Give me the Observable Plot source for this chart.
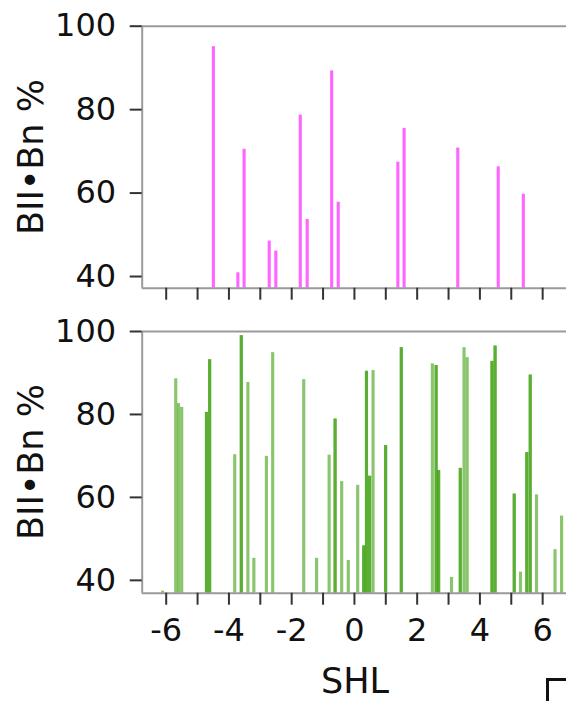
<!DOCTYPE html>
<html>
<head>
<meta charset="utf-8">
<script src="https://cdn.jsdelivr.net/npm/d3@7"></script>
<script src="https://cdn.jsdelivr.net/npm/@observablehq/plot@0.6"></script>
<style>
  html, body { margin: 0; padding: 0; background: #fff; }
  #wrap { position: relative; width: 566px; height: 701px; overflow: hidden; font-family: "DejaVu Sans", sans-serif; color: #111; }
  .panel { position: absolute; left: 0; }
  .ylab { position: absolute; font-size: 35px; white-space: nowrap; transform: translate(-50%, -50%) rotate(-90deg); }
  .xlab { position: absolute; font-size: 35px; white-space: nowrap; transform: translate(-50%, -50%); }
  #corner { position: absolute; left: 546px; top: 678px; width: 40px; height: 40px; border-top: 3px solid #111; border-left: 3px solid #111; }
</style>
</head>
<body>
<div id="wrap"></div>
<script>
// ---- data ----
const xTicks = [-6, -5, -4, -3, -2, -1, 0, 1, 2, 3, 4, 5, 6];
const yTicks = [40, 60, 80, 100];
const xLabel = "SHL";
const yLabel = "BII•Bn %";

const pinkX = [-4.48, -3.70, -3.50, -2.70, -2.49, -1.71, -1.49, -0.71, -0.50, 1.40, 1.60, 3.31, 4.60, 5.40];
const pinkV = [95.1, 40.9, 70.5, 48.5, 46.1, 78.7, 53.7, 89.3, 57.8, 67.4, 75.5, 70.8, 66.3, 59.7];

const greenX = [-6.10, -5.68, -5.59, -5.49, -4.70, -4.70, -4.60, -4.60, -3.80, -3.59, -3.59, -3.38, -3.19,
  -2.79, -2.59, -1.60, -1.19, -0.79, -0.60, -0.60, -0.39, -0.18, 0.12, 0.31, 0.31, 0.40, 0.40, 0.50, 0.50,
  0.61, 1.01, 1.01, 1.51, 1.51, 2.50, 2.62, 2.62, 2.70, 2.70, 3.11, 3.39, 3.39, 3.51, 3.61, 4.40, 4.40,
  4.50, 4.50, 5.11, 5.11, 5.31, 5.51, 5.51, 5.62, 5.62, 5.82, 6.41, 6.62];
const greenV = [37.4, 88.6, 82.6, 81.7, 80.5, 80.5, 93.2, 93.2, 70.3, 99.0, 99.0, 87.7, 45.3,
  69.9, 94.9, 88.4, 45.3, 70.2, 78.9, 78.9, 63.8, 44.8, 62.9, 48.3, 48.3, 90.4, 90.4, 65.1, 65.1,
  90.6, 72.5, 72.5, 96.1, 96.1, 92.2, 91.8, 91.8, 66.5, 66.5, 40.7, 67.0, 67.0, 96.1, 93.7, 92.8, 92.8,
  96.5, 96.5, 60.8, 60.8, 42.0, 70.8, 70.8, 89.5, 89.5, 60.6, 47.4, 55.5];

const xDomain = [-6.765, 6.76];
const topYDomain = [37.2, 100];
const botYDomain = [36.9, 100];

const pink = pinkX.map((x, i) => ({x, v: pinkV[i]}));
const green = greenX.map((x, i) => ({x, v: greenV[i]}));

const W = 566;
const wrap = document.getElementById("wrap");

function panel({data, color, opacity, yDomain, top, height, mt, mb, showLabels}) {
  const chart = Plot.plot({
    width: W,
    height,
    marginLeft: 141.7,
    marginRight: 0,
    marginTop: mt,
    marginBottom: mb,
    style: {fontFamily: "DejaVu Sans, sans-serif", fontSize: "32px", background: "transparent", overflow: "visible", color: "#111"},
    x: {domain: xDomain},
    y: {domain: yDomain},
    marks: [
      Plot.rectY(data, {x1: d => d.x - 0.05, x2: d => d.x + 0.05, y1: 0, y2: "v", fill: color, fillOpacity: opacity, clip: true}),
      Plot.ruleX([xDomain[0]], {stroke: "#9a9a9a", strokeWidth: 2}),
      Plot.ruleY([yDomain[0]], {stroke: "#9a9a9a", strokeWidth: 2}),
      Plot.ruleY([yDomain[1]], {stroke: "#9a9a9a", strokeWidth: 2}),
      Plot.axisY({ticks: yTicks, tickSize: 12, tickPadding: 14, fontSize: 32, label: null, stroke: "#333", strokeWidth: 2, tickFormat: d => String(d)}),
      Plot.axisX({ticks: xTicks, tickSize: 12, tickPadding: 13, fontSize: 32, label: null, stroke: "#333", strokeWidth: 2,
        tickFormat: d => showLabels && d % 2 === 0 ? String(d) : ""})
    ]
  });
  chart.classList.add("panel");
  chart.style.top = top + "px";
  wrap.appendChild(chart);
}

panel({data: pink, color: "#ff00ff", opacity: 0.6, yDomain: topYDomain, top: 0, height: 310, mt: 25.7, mb: 22.3, showLabels: false});
panel({data: green, color: "#3a9f0a", opacity: 0.6, yDomain: botYDomain, top: 310, height: 391, mt: 21, mb: 108.3, showLabels: true});

function addLabel(cls, text, x, y) {
  const d = document.createElement("div");
  d.className = cls;
  d.textContent = text;
  d.style.left = x + "px";
  d.style.top = y + "px";
  wrap.appendChild(d);
}
addLabel("ylab", yLabel, 31, 157);
addLabel("ylab", yLabel, 31, 462);
addLabel("xlab", xLabel, 355, 681);
const corner = document.createElement("div");
corner.id = "corner";
wrap.appendChild(corner);
</script>
</body>
</html>
